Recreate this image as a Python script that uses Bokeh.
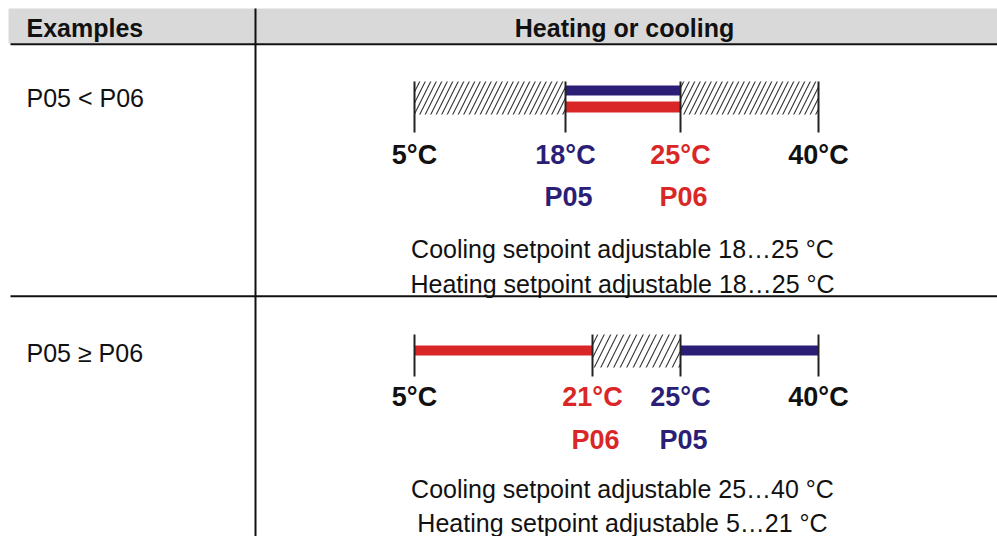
from bokeh.plotting import figure
from bokeh.models import Range1d, ColumnDataSource
from bokeh.core.properties import value
from bokeh.embed import file_html
from bokeh.resources import INLINE

# ---------------- data ----------------
header_labels = ["Examples", "Heating or cooling"]
row_labels = ["P05 < P06", "P05 \u2265 P06"]

row1_temps = [5, 18, 25, 40]
row2_temps = [5, 21, 25, 40]
row1_temp_kind = ["limit", "cool", "heat", "limit"]
row2_temp_kind = ["limit", "heat", "cool", "limit"]

row1_params = ["P05", "P06"]
row1_param_temps = [18, 25]
row1_param_kind = ["cool", "heat"]
row2_params = ["P06", "P05"]
row2_param_temps = [21, 25]
row2_param_kind = ["heat", "cool"]

# bands: (from temp, to temp, kind)
row1_band_from = [5, 18, 18, 25]
row1_band_to = [18, 25, 25, 40]
row1_band_kind = ["off", "cool", "heat", "off"]
row2_band_from = [5, 21, 25]
row2_band_to = [21, 25, 40]
row2_band_kind = ["heat", "off", "cool"]

row1_notes = ["Cooling setpoint adjustable 18\u202625 \u00b0C",
              "Heating setpoint adjustable 18\u202625 \u00b0C"]
row2_notes = ["Cooling setpoint adjustable 25\u202640 \u00b0C",
              "Heating setpoint adjustable 5\u202621 \u00b0C"]

# ---------------- style / layout ----------------
BLUE = "#2b1e76"
RED = "#d92727"
BLACK = "#111111"
GRAY = "#d9d9d9"
colors = {"limit": BLACK, "cool": BLUE, "heat": RED}
FONT = value("Liberation Sans")
DY = -9.5  # text baseline correction

# schematic (non-linear) position of each temperature on each row's scale
pos1 = {5: 414, 18: 565, 25: 680, 40: 818}
pos2 = {5: 414, 21: 592, 25: 680, 40: 818}

W, H = 997, 536
p = figure(width=W, height=H, output_backend="svg", toolbar_location=None,
           x_range=Range1d(0, W), y_range=Range1d(H, 0),
           min_border=0, outline_line_color=None)
p.axis.visible = False
p.grid.visible = False
p.background_fill_color = "white"
p.border_fill_color = "white"

# header band
p.quad(left=[8], right=[1000], top=[8], bottom=[43], fill_color=GRAY, line_color=None)
p.segment(x0=[10], x1=[1000], y0=[43.7], y1=[43.7], line_color=BLACK, line_width=2)
p.segment(x0=[10], x1=[1000], y0=[295.7], y1=[295.7], line_color=BLACK, line_width=2)
p.segment(x0=[255], x1=[255], y0=[8], y1=[540], line_color=BLACK, line_width=2)

# header text
p.text(x=[26], y=[37 + DY], text=[header_labels[0]], text_font=FONT, text_font_style="bold",
       text_font_size="25px", text_color=BLACK, text_baseline="alphabetic", text_align="left")
p.text(x=[624], y=[37 + DY], text=[header_labels[1]], text_font=FONT, text_font_style="bold",
       text_font_size="25px", text_color=BLACK, text_baseline="alphabetic", text_align="center")

# row labels
p.text(x=[26, 26], y=[107 + DY, 362 + DY], text=row_labels, text_font=FONT, text_font_size="25px",
       text_color=BLACK, text_baseline="alphabetic", text_align="left")


def draw_row(pos, temps, temp_kind, params, param_temps, param_kind,
             bfrom, bto, bkind, notes, tick_top, tick_bot, hatch_top, hatch_bot,
             bar_rows, base_temp, base_param, base_notes, hscale):
    bar_i = {"cool": 0, "heat": 1}
    for a, b, k in zip(bfrom, bto, bkind):
        if k == "off":
            p.quad(left=[pos[a]], right=[pos[b]], top=[hatch_top], bottom=[hatch_bot],
                   fill_color="white", line_color=None, hatch_pattern="/",
                   hatch_color="#333333", hatch_scale=hscale, hatch_weight=1.1)
        else:
            t, bt = bar_rows[bar_i[k]] if len(bar_rows) > 1 else bar_rows[0]
            p.quad(left=[pos[a]], right=[pos[b]], top=[t], bottom=[bt],
                   fill_color=colors[k], line_color=None)
    # ticks
    xs = [pos[t] for t in temps]
    p.segment(x0=xs, x1=xs, y0=[tick_top] * len(xs), y1=[tick_bot] * len(xs),
              line_color="#222222", line_width=2)
    # temperature labels
    src = ColumnDataSource(dict(x=xs, y=[base_temp + DY] * len(xs),
                                t=["%d\u00b0C" % t for t in temps],
                                c=[colors[k] for k in temp_kind]))
    p.text(x="x", y="y", text="t", text_color="c", source=src, text_font=FONT,
           text_font_style="bold", text_font_size="27px", text_align="center",
           text_baseline="alphabetic")
    # parameter labels
    src2 = ColumnDataSource(dict(x=[pos[t] + 3 for t in param_temps],
                                 y=[base_param + DY] * len(params), t=params,
                                 c=[colors[k] for k in param_kind]))
    p.text(x="x", y="y", text="t", text_color="c", source=src2, text_font=FONT,
           text_font_style="bold", text_font_size="27px", text_align="center",
           text_baseline="alphabetic")
    # notes
    p.text(x=[622, 622], y=[b + DY for b in base_notes], text=notes, text_font=FONT,
           text_font_size="25px", text_color=BLACK, text_align="center",
           text_baseline="alphabetic")


draw_row(pos1, row1_temps, row1_temp_kind, row1_params, row1_param_temps, row1_param_kind,
         row1_band_from, row1_band_to, row1_band_kind, row1_notes,
         81, 132, 81, 114, [(85, 95), (101, 112)], 163.5, 206, [258, 293], 11)
draw_row(pos2, row2_temps, row2_temp_kind, row2_params, row2_param_temps, row2_param_kind,
         row2_band_from, row2_band_to, row2_band_kind, row2_notes,
         334, 376, 334, 367, [(345, 355)], 406, 449, [498, 532], 13)

open("out.html", "w").write(file_html(p, INLINE))
